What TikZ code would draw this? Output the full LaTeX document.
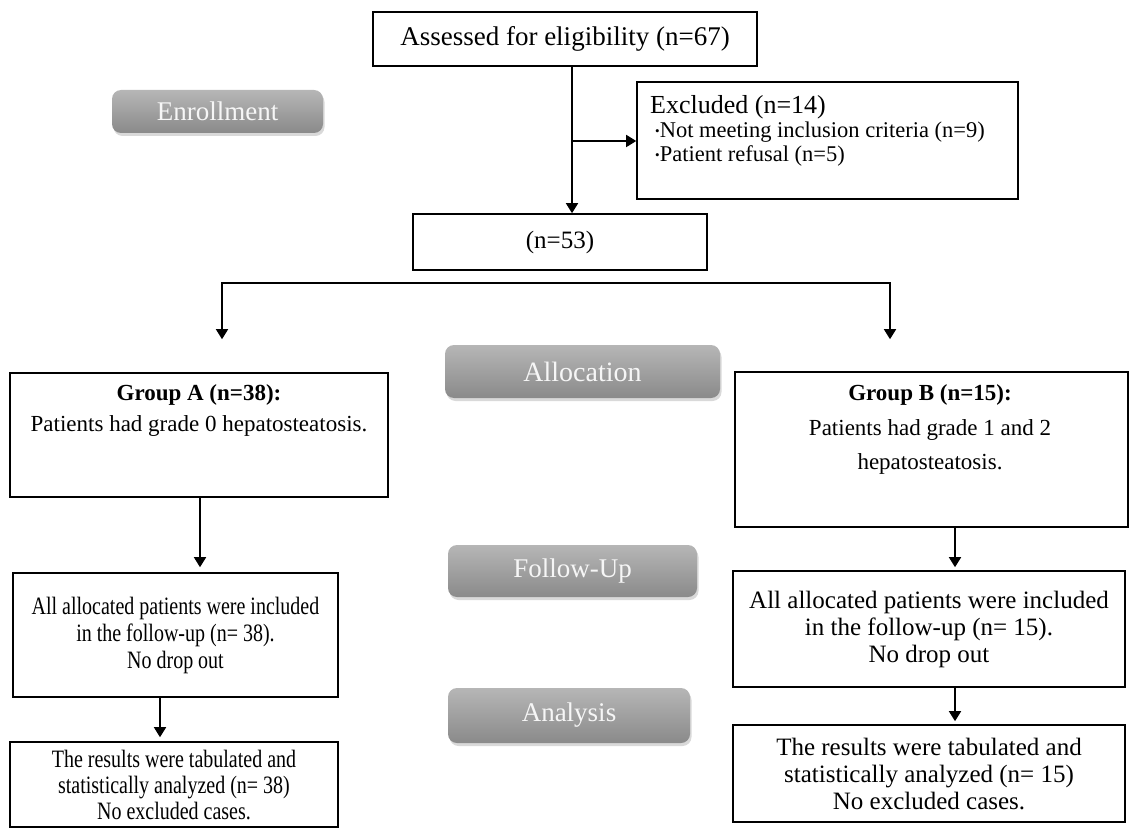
\documentclass[tikz,border=0pt]{standalone}
\usepackage{fontspec}
\setmainfont{Liberation Serif}
\newfontfamily\narrowfont[FakeStretch=0.8]{Liberation Serif}
\usepackage{tikz}
\usetikzlibrary{arrows.meta}
\usetikzlibrary{positioning}
\usetikzlibrary{shadows}
\definecolor{pilltop}{RGB}{182,182,182}
\definecolor{pillbot}{RGB}{138,138,138}
\definecolor{pilltext}{RGB}{246,246,246}
\newcommand{\fsz}[2]{\fontsize{#1}{#2}\selectfont}
\newcommand{\bul}{\raisebox{0.2ex}{\fsz{13}{13}\textbullet}}

\begin{document}
\begin{tikzpicture}[x=1pt,y=-1pt]
\tikzstyle{every node}=[font=\fsz{25}{27}]
\tikzstyle{box}=[draw, line width=1.6pt, align=center, inner sep=0pt]
\tikzstyle{boxtext}=[inner sep=0pt, align=center, anchor=north]
\tikzstyle{phase}=[rounded corners=9pt, top color=pilltop, bottom color=pillbot, text=pilltext, font=\fsz{27}{28}, drop shadow={shadow xshift=1.5pt, shadow yshift=-3pt, opacity=0.3}]
\tikzstyle{flow}=[->, >={Triangle[width=12pt,length=10pt]}, line width=1.6pt]
\useasboundingbox (0,0) rectangle (1132,829);
\node [box, minimum width=384pt, minimum height=54pt, font=\fsz{27}{28}] (elig) at (565,39) {Assessed for eligibility (n=67)};
\node [phase, minimum width=211pt, minimum height=43pt] (enrol) at (217.5,111.5) {Enrollment};
\node [box, minimum width=381pt, minimum height=117pt] (excl) at (827.5,140.5) {};
\node [boxtext, anchor=north west, align=left, font=\fsz{22.5}{24}] (excltxt) at (650,95) {{\fsz{26}{24}Excluded (n=14)}\\\hspace*{5pt}\bul Not meeting inclusion criteria (n=9)\\\hspace*{5pt}\bul Patient refusal (n=5)};
\node [box, minimum width=294pt, minimum height=56pt] (n53) at (560,242) {(n=53)};
\node [phase, minimum width=275pt, minimum height=53pt, font=\fsz{28}{29}] (alloc) at (582.5,371.5) {Allocation};
\node [box, minimum width=378pt, minimum height=124pt] (grpA) at (199,435) {};
\node [boxtext, font=\fsz{23}{27}] (grpAtxt) at (199,384) {\textbf{Group A (n=38):}\\[4pt]Patients had grade 0 hepatosteatosis.};
\node [box, minimum width=393pt, minimum height=155pt] (grpB) at (931.5,449.5) {};
\node [boxtext, font=\fsz{23}{27}] (grpBtxt) at (930,384) {\textbf{Group B (n=15):}\\[8pt]Patients had grade 1 and 2\\[7pt]hepatosteatosis.};
\node [phase, minimum width=249pt, minimum height=52pt] (fupill) at (572.5,571) {Follow-Up};
\node [box, minimum width=325pt, minimum height=124pt, font=\narrowfont\fsz{25}{27}] (fuA) at (175.5,635) {All allocated patients were included\\in the follow-up (n= 38).\\No drop out};
\node [box, minimum width=392pt, minimum height=116pt] (fuB) at (929,629) {All allocated patients were included\\in the follow-up (n= 15).\\No drop out};
\node [phase, minimum width=242pt, minimum height=55pt] (anpill) at (569,715.5) {Analysis};
\node [box, minimum width=328pt, minimum height=85pt, font=\narrowfont\fsz{25}{26}] (anA) at (174,784.5) {The results were tabulated and\\statistically analyzed (n= 38)\\No excluded cases.};
\node [box, minimum width=392pt, minimum height=97pt] (anB) at (929,773.5) {The results were tabulated and\\statistically analyzed (n= 15)\\No excluded cases.};
\coordinate (trunk) at (572,141);
\coordinate (brA) at (222,283);
\coordinate (brB) at (890,283);
\coordinate (colA) at (200,0);
\coordinate (colAA) at (160,0);
\coordinate (colB) at (955,0);
\draw [flow] (elig.south -| trunk) -- (n53.north -| trunk);
\draw [flow] (trunk) -- (excl.west |- trunk);
\draw [flow, <->, shorten <=33pt, shorten >=32pt] (brA |- grpA.north) -- (brA) -- (brB) -- (brB |- grpB.north);
\draw [flow, shorten >=5pt] (grpA.south -| colA) -- (fuA.north -| colA);
\draw [flow, shorten >=4pt] (fuA.south -| colAA) -- (anA.north -| colAA);
\draw [flow, shorten >=3pt] (grpB.south -| colB) -- (fuB.north -| colB);
\draw [flow, shorten >=3pt] (fuB.south -| colB) -- (anB.north -| colB);
\end{tikzpicture}
\end{document}
